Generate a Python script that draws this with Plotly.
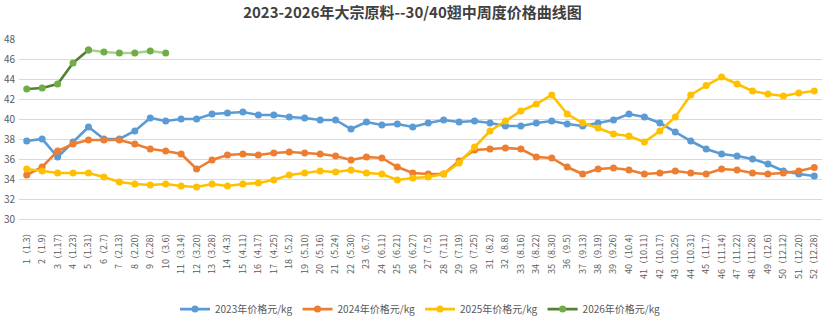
import plotly.graph_objects as go

weeks = ["1（1.3）","2（1.9）","3（1.17）","4（1.23）","5（1.31）","6（2.7）","7（2.13）","8（2.20）","9（2.28）","10（3.6）",
         "11（3.14）","12（3.20）","13（3.28）","14（4.3）","15（4.11）","16（4.17）","17（4.25）","18（5.2）","19（5.10）","20（5.16）",
         "21（5.24）","22（5.30）","23（6.7）","24（6.11）","25（6.21）","26（6.27）","27（7.5）","28（7.11）","29（7.19）","30（7.25）",
         "31（8.2）","32（8.8）","33（8.16）","34（8.22）","35（8.30）","36（9.5）","37（9.13）","38（9.19）","39（9.26）","40（10.4）",
         "41（10.11）","42（10.17）","43（10.25）","44（10.31）","45（11.7）","46（11.14）","47（11.22）","48（11.28）","49（12.6）","50（12.12）",
         "51（12.20）","52（12.28）"]

price_2023 = [37.8, 38.0, 36.2, 37.7, 39.2, 38.0, 38.0, 38.8, 40.1, 39.8,
              40.0, 40.0, 40.5, 40.6, 40.7, 40.4, 40.4, 40.2, 40.1, 39.9,
              39.9, 39.0, 39.7, 39.4, 39.5, 39.2, 39.6, 39.9, 39.7, 39.8,
              39.6, 39.3, 39.3, 39.6, 39.8, 39.5, 39.3, 39.6, 39.9, 40.5,
              40.2, 39.6, 38.7, 37.8, 37.0, 36.5, 36.3, 36.0, 35.5, 34.8,
              34.5, 34.3]
price_2024 = [34.4, 35.2, 36.8, 37.5, 37.9, 37.9, 37.9, 37.5, 37.0, 36.8,
              36.5, 35.0, 35.9, 36.4, 36.5, 36.4, 36.6, 36.7, 36.6, 36.5,
              36.3, 35.9, 36.2, 36.1, 35.2, 34.6, 34.5, 34.5, 35.8, 36.9,
              37.0, 37.1, 37.0, 36.2, 36.1, 35.2, 34.5, 35.0, 35.1, 34.9,
              34.5, 34.6, 34.8, 34.6, 34.5, 35.0, 34.9, 34.6, 34.5, 34.6,
              34.8, 35.15]
price_2025 = [35.0, 34.8, 34.6, 34.6, 34.6, 34.2, 33.7, 33.5, 33.4, 33.5,
              33.3, 33.2, 33.5, 33.3, 33.5, 33.6, 33.9, 34.4, 34.6, 34.8,
              34.7, 34.9, 34.6, 34.5, 33.9, 34.1, 34.2, 34.5, 35.6, 37.2,
              38.8, 39.8, 40.8, 41.5, 42.4, 40.5, 39.6, 39.1, 38.5, 38.3,
              37.7, 38.8, 40.2, 42.4, 43.35, 44.2, 43.5, 42.8, 42.5, 42.3,
              42.6, 42.8]
price_2026 = [43.0, 43.1, 43.5, 45.6, 46.9, 46.7, 46.6, 46.6, 46.8, 46.6]

series = [
    ("2023年价格元/kg", price_2023, "#5B9BD5"),
    ("2024年价格元/kg", price_2024, "#ED7D31"),
    ("2025年价格元/kg", price_2025, "#FFC000"),
]

fig = go.Figure()
for name, vals, col in series:
    fig.add_trace(go.Scatter(
        x=weeks[:len(vals)], y=vals, name=name, mode="lines+markers",
        line=dict(color=col, width=2.6),
        marker=dict(color=col, size=7),
    ))

# 2026: darker line for first weeks, lighter afterwards
fig.add_trace(go.Scatter(
    x=weeks[4:len(price_2026)], y=price_2026[4:], mode="lines+markers",
    line=dict(color="#A9D18E", width=2.6), marker=dict(color="#70AD47", size=7),
    showlegend=False, hoverinfo="skip",
))
fig.add_trace(go.Scatter(
    x=weeks[:5], y=price_2026[:5], name="2026年价格元/kg", mode="lines+markers",
    line=dict(color="#548235", width=2.6), marker=dict(color="#70AD47", size=7),
))

fig.update_layout(
    width=825, height=327,
    margin=dict(l=19, r=3, t=39, b=96),
    paper_bgcolor="white", plot_bgcolor="white",
    title=dict(text="<b>2023-2026年大宗原料--30/40翅中周度价格曲线图</b>",
               x=0.5, xanchor="center", y=0.962, yanchor="middle",
               font=dict(family="Noto Sans CJK SC", size=15, color="#404040")),
    font=dict(family="Noto Sans CJK SC", color="#595959"),
    xaxis=dict(type="category", tickangle=-90, showgrid=False,
               showline=True, linecolor="#D9D9D9", linewidth=1,
               tickfont=dict(size=9, color="#595959"), ticks="",
               ticklabelstandoff=5, range=[-0.5, 51.5]),
    yaxis=dict(range=[30, 48], dtick=2, showgrid=True, gridcolor="#D9D9D9",
               gridwidth=1, zeroline=False, showline=False, ticks="",
               tickfont=dict(size=10, color="#595959"), ticklabelstandoff=3),
    legend=dict(orientation="h", x=0.5, xanchor="center", y=-0.42, yanchor="top",
                font=dict(size=10, color="#595959"), itemwidth=30,
                traceorder="normal"),
    showlegend=True,
)

fig.write_html("out.html")
